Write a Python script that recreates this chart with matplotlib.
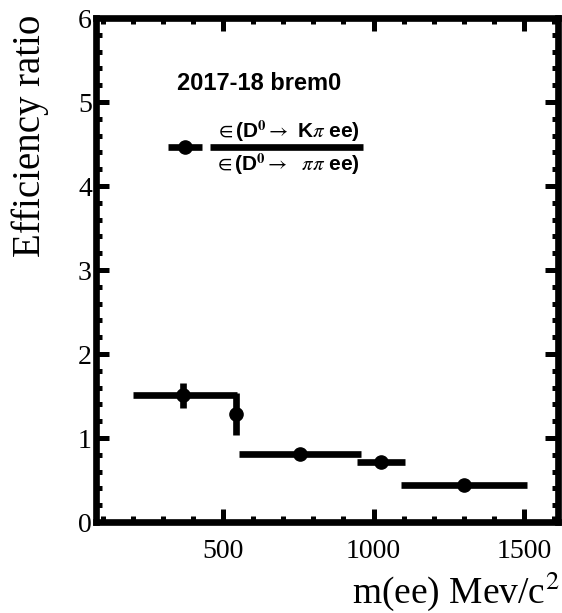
import numpy as np
import matplotlib
matplotlib.use('Agg')
import matplotlib.pyplot as plt
from matplotlib.ticker import MultipleLocator

plt.rcParams['mathtext.fontset'] = 'stix'

# efficiency ratio per m(ee) bin
x_val = [366, 542, 756, 1024, 1301]
x_lo = [200, 538, 554, 945, 1092]
x_hi = [546, 546, 957, 1105, 1510]
y_val = [1.51, 1.28, 0.81, 0.71, 0.435]
y_err = [0.15, 0.25, 0.03, 0.03, 0.02]

label_title = '2017-18 brem0'
label_num = r'$\in$(D$^{\mathbf{0}}$$\rightarrow$ K$\pi$ ee)'
label_den = r'$\in$(D$^{\mathbf{0}}$$\rightarrow$  $\pi\pi$ ee)'

x_err = [np.array(x_val) - np.array(x_lo), np.array(x_hi) - np.array(x_val)]

fig = plt.figure(figsize=(5.62, 6.13), dpi=100)
ax = fig.add_axes([96 / 562, 1 - 522 / 613, 462 / 562, 504 / 613])

ax.errorbar(x_val, y_val, xerr=x_err, yerr=y_err, fmt='o', color='black',
            ms=9.5, elinewidth=4.8, capsize=0, clip_on=False)

ax.set_xlim(78, 1613)
ax.set_ylim(0, 6)
ax.xaxis.set_major_locator(MultipleLocator(500))
ax.xaxis.set_minor_locator(MultipleLocator(100))
ax.yaxis.set_major_locator(MultipleLocator(1))
ax.yaxis.set_minor_locator(MultipleLocator(0.2))
ax.tick_params(which='both', direction='in', top=True, right=True, width=3.6)
ax.tick_params(which='major', length=9.5)
ax.tick_params(which='minor', length=4.3)
ax.tick_params(axis='x', pad=12)
ax.tick_params(axis='y', pad=3)
for lab in ax.get_xticklabels() + ax.get_yticklabels():
    lab.set_fontfamily('Liberation Serif')
    lab.set_fontsize(20)
for sp in ax.spines.values():
    sp.set_linewidth(4.8)

fig.text(30 / 562, 1 - 15 / 613, 'Efficiency ratio', rotation=90,
         ha='center', va='top', family='Liberation Serif', fontsize=28)
fig.text(560 / 562, 1 - 603 / 613, 'm(ee) Mev/c$^2$', ha='right',
         va='baseline', family='Liberation Serif', fontsize=27)


def px(x, y):
    return (x - 96) / 462, (522 - y) / 504


tx, ty = px(177, 83)
ax.text(tx, ty, label_title, transform=ax.transAxes, ha='left', va='center',
        family='Liberation Sans', weight='bold', fontsize=17)

nx, ny = px(287, 131)
ax.text(nx, ny, label_num, transform=ax.transAxes, ha='center', va='center',
        family='Liberation Sans', weight='bold', fontsize=15)
dx, dy = px(287, 164)
ax.text(dx, dy, label_den, transform=ax.transAxes, ha='center', va='center',
        family='Liberation Sans', weight='bold', fontsize=15)

b0, by = px(210, 147)
b1, _ = px(363, 147)
ax.plot([b0, b1], [by, by], color='black', lw=4.8, transform=ax.transAxes,
        clip_on=False, solid_capstyle='butt')

l0, ly = px(168, 147)
l1, _ = px(202, 147)
lm, _ = px(185, 147)
ax.plot([l0, l1], [ly, ly], color='black', lw=4.8, transform=ax.transAxes,
        clip_on=False, solid_capstyle='butt')
ax.plot([lm], [ly], 'o', color='black', ms=9.5, transform=ax.transAxes,
        clip_on=False)

fig.savefig('out.png', dpi=100)
